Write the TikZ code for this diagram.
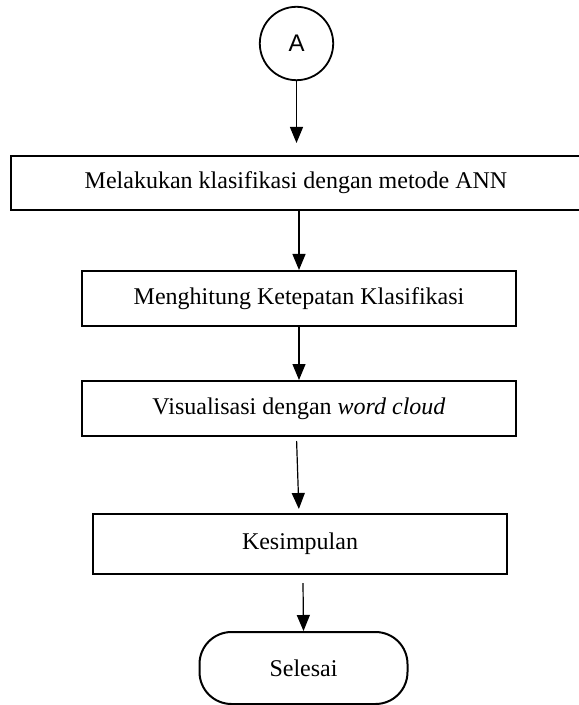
\documentclass[tikz,border=0pt]{standalone}
\usepackage{fontspec}
\setmainfont{Liberation Serif}
\newfontfamily\arialfont{Liberation Sans}
\usetikzlibrary{shapes,arrows.meta,positioning,calc}

\begin{document}
\begin{tikzpicture}[x=0.5pt,y=-0.5pt,
    prosesbox/.style={draw, rectangle, line width=1pt, inner sep=0pt, font=\fontsize{12}{14}\selectfont},
    konektor/.style={draw, circle, line width=0.9pt, minimum size=36.7pt, inner sep=0pt, font=\arialfont\fontsize{12}{14}\selectfont},
    terminal/.style={draw, rectangle, rounded corners=16pt, line width=1pt, minimum width=104pt, minimum height=36pt, inner sep=0pt, font=\fontsize{12}{14}\selectfont},
    panah/.style={-{Triangle[length=8pt,width=6.5pt]}, line width=0.6pt}]
    \useasboundingbox (0,0) rectangle (578,705);

    % Connector A
    \node[konektor] (A) at (296.5,43.5) {A};

    % Process steps
    \node[prosesbox, minimum width=285pt, minimum height=27pt] (klasifikasi) at (296,183) {Melakukan klasifikasi dengan metode ANN};
    \node[prosesbox, minimum width=217pt, minimum height=27.5pt] (ketepatan) at (299,298.5) {Menghitung Ketepatan Klasifikasi};
    \node[prosesbox, minimum width=217pt, minimum height=27.5pt] (visualisasi) at (299,408.5) {Visualisasi dengan \textit{word cloud}};
    \node[prosesbox, minimum width=207pt, minimum height=30pt] (kesimpulan) at (300,544) {Kesimpulan};

    % End
    \node[terminal] (selesai) at (303.5,668) {Selesai};

    % Arrows
    \draw[panah, shorten >=6pt] (A) -- (A |- klasifikasi.north);
    \draw[panah] (ketepatan.north |- klasifikasi.south) -- (ketepatan.north);
    \draw[panah] (ketepatan) -- (visualisasi);
    \draw[panah, shorten >=2pt] ([xshift=-1.2pt,yshift=-2pt]visualisasi.south) -- ([xshift=-0.5pt]kesimpulan.north);
    \draw[panah] ([xshift=1.5pt,yshift=-4pt]kesimpulan.south) -- (selesai.north);
\end{tikzpicture}
\end{document}
